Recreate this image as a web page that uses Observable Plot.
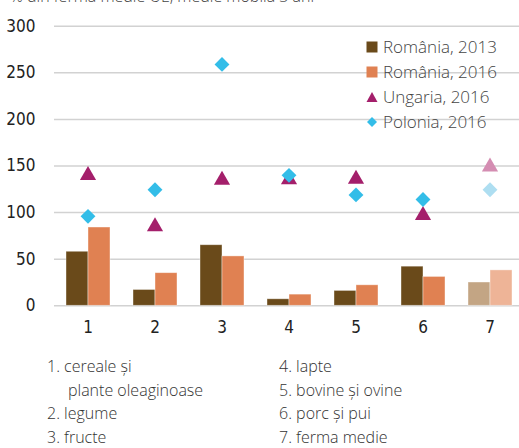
<!DOCTYPE html>
<html>
<head>
<meta charset="utf-8">
<script src="https://cdn.jsdelivr.net/npm/d3@7"></script>
<script src="https://cdn.jsdelivr.net/npm/@observablehq/plot@0.6"></script>
<style>
  html, body { margin: 0; padding: 0; background: #fff; }
  #wrap { position: relative; width: 519px; height: 448px; overflow: hidden; font-family: "Open Sans", "Noto Sans", sans-serif; }
  #sub { position: absolute; left: 10px; top: -13px; font-size: 16px; line-height: 18px; color: #444; white-space: nowrap; font-weight: 300; }
  #chart { position: absolute; left: 0; top: 0; }
  #legend { position: absolute; left: 366px; top: 34px; font-size: 17px; color: #444; font-weight: 300; }
  #legend .row { height: 25px; line-height: 25px; display: flex; align-items: center; white-space: nowrap; }
  #legend svg { margin-right: 5px; }
  .notes { position: absolute; top: 355px; font-size: 16px; line-height: 23.5px; color: #333; font-weight: 300; white-space: nowrap; }
  .notes .ind { padding-left: 21px; }
</style>
</head>
<body>
<div id="wrap">
  <div id="sub"></div>
  <div id="chart"></div>
  <div id="legend"></div>
  <div class="notes" id="notesL" style="left:47px"></div>
  <div class="notes" id="notesR" style="left:279px"></div>
</div>
<script>
const subtitle = "% din ferma medie UE, medie mobilă 3 ani";
const categories = [1, 2, 3, 4, 5, 6, 7];
const barSeries = ["România, 2013", "România, 2016"];
const ro2013 = [58, 17, 65, 7, 16, 42, 25];
const ro2016 = [84, 35, 53, 12, 22, 31, 38];
const hu2016 = [140, 85, 135, 135.5, 136, 97, 149];
const pl2016 = [96, 124.5, 259, 140, 119, 114, 124.5];
const yTicks = [0, 50, 100, 150, 200, 250, 300];
const legendLabels = ["România, 2013", "România, 2016", "Ungaria, 2016", "Polonia, 2016"];
const notesLeft = [["1. cereale și", false], ["plante oleaginoase", true], ["2. legume", false], ["3. fructe", false]];
const notesRight = ["4. lapte", "5. bovine și ovine", "6. porc și pui", "7. ferma medie"];

const colors = ["#6A4A1A", "#E08152", "#A41F6B", "#33BDE8"];
const faded  = ["#C3A584", "#EEB497", "#D48DB2", "#AEDEF1"];
const fadedCat = 7;

const bars = [];
categories.forEach((c, i) => {
  bars.push({cat: c, series: barSeries[0], value: ro2013[i], k: 0});
  bars.push({cat: c, series: barSeries[1], value: ro2016[i], k: 1});
});
const hu = categories.map((c, i) => ({cat: c, value: hu2016[i], k: 2}));
const pl = categories.map((c, i) => ({cat: c, value: pl2016[i], k: 3}));
const col = d => d.cat === fadedCat ? faded[d.k] : colors[d.k];

const chart = Plot.plot({
  width: 519,
  height: 341,
  marginLeft: 54,
  marginRight: -4,
  marginTop: 25.7,
  marginBottom: 35.7,
  style: {fontFamily: "'Liberation Sans Narrow', 'DejaVu Sans Condensed', sans-serif", fontSize: "17px", color: "#222", background: "transparent"},
  fx: {domain: categories, padding: 0, label: null, tickSize: 0, tickPadding: 15, axis: "bottom"},
  x: {domain: barSeries, axis: null, paddingInner: 0, paddingOuter: 0.49},
  y: {domain: [0, 300], ticks: yTicks, label: null, tickSize: 0, tickPadding: 19},
  marks: [
    Plot.ruleY(yTicks, {stroke: "#d2d2d2", strokeWidth: 1.5}),
    Plot.barY(bars, {fx: "cat", x: "series", y: "value", fill: col, stroke: "#fff", strokeOpacity: 0.5, strokeWidth: 0.8}),
    Plot.dot(hu, {fx: "cat", y: "value", symbol: "triangle", r: 6, fill: col, stroke: "none"}),
    Plot.dot(pl, {fx: "cat", y: "value", symbol: "diamond2", r: 6.7, fill: col, stroke: "none"})
  ]
});
document.getElementById("chart").appendChild(chart);
document.getElementById("sub").textContent = subtitle;

const sym = [
  '<svg width="12" height="12"><rect x="0.5" y="0.5" width="11" height="11" fill="' + colors[0] + '"/></svg>',
  '<svg width="12" height="12"><rect x="0.5" y="0.5" width="11" height="11" fill="' + colors[1] + '"/></svg>',
  '<svg width="12" height="12"><path d="M6,1 L11.5,11 L0.5,11 Z" fill="' + colors[2] + '"/></svg>',
  '<svg width="12" height="12"><path d="M6,1 L11,6 L6,11 L1,6 Z" fill="' + colors[3] + '"/></svg>'
];
const leg = document.getElementById("legend");
legendLabels.forEach((t, i) => {
  const r = document.createElement("div");
  r.className = "row";
  r.innerHTML = sym[i];
  const s = document.createElement("span");
  s.textContent = t;
  r.appendChild(s);
  leg.appendChild(r);
});
const nl = document.getElementById("notesL");
notesLeft.forEach(([t, ind]) => {
  const d = document.createElement("div");
  if (ind) d.className = "ind";
  d.textContent = t;
  nl.appendChild(d);
});
const nr = document.getElementById("notesR");
notesRight.forEach(t => {
  const d = document.createElement("div");
  d.textContent = t;
  nr.appendChild(d);
});
</script>
</body>
</html>
